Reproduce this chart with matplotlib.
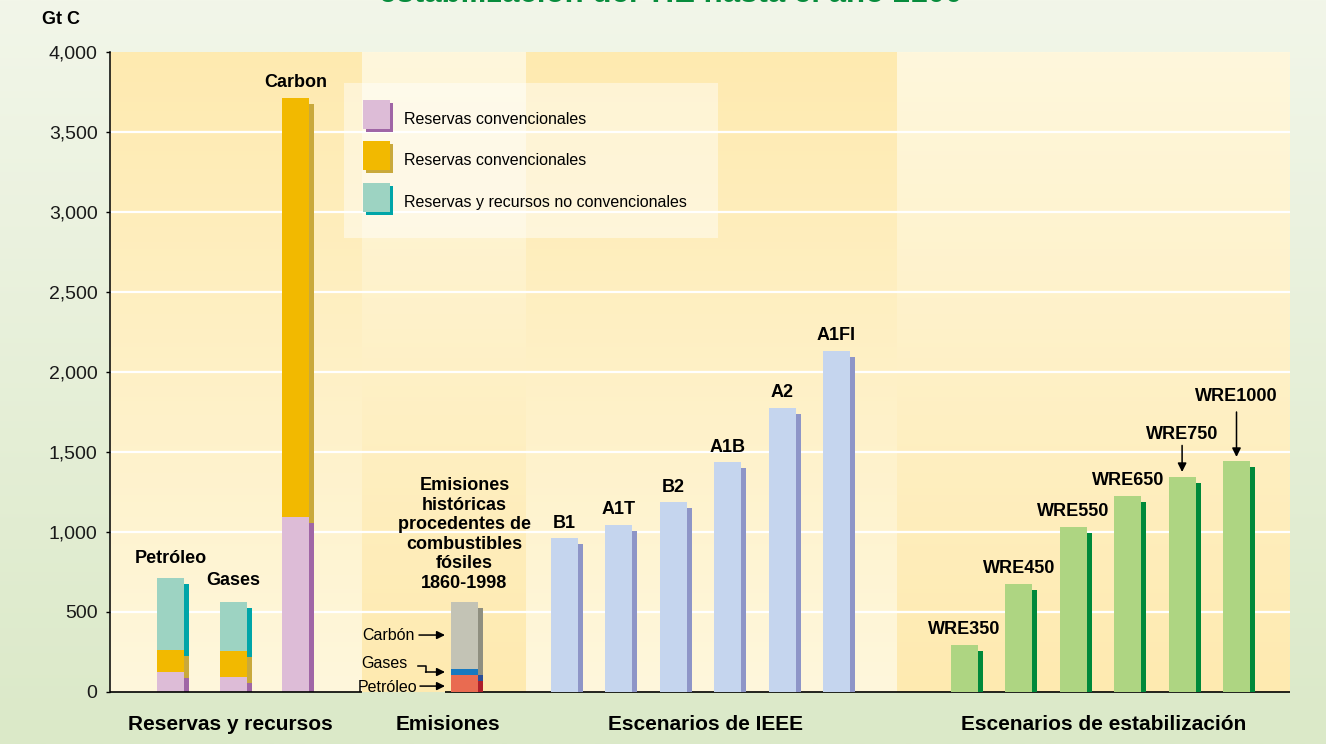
import numpy as np
import matplotlib
matplotlib.use('Agg')
import matplotlib.pyplot as plt
from matplotlib.patches import Rectangle
from matplotlib.colors import to_rgb

plt.rcParams['font.family'] = ['Liberation Sans', 'DejaVu Sans']

# reserves and resources, Gt C
reserve_names = ['Petróleo', 'Gases', 'Carbon']
reserves_conv = [125, 94, 1094]
resources_conv = [137, 162, 2618]
reserves_unconv = [450, 306, 0]

# historical emissions 1860-1998 (oil, gas, coal)
emission_names = ['Petróleo', 'Gases', 'Carbón']
emission_values = [106, 38, 418]

ipcc_names = ['B1', 'A1T', 'B2', 'A1B', 'A2', 'A1FI']
ipcc_values = [962, 1044, 1187, 1437, 1775, 2131]

wre_names = ['WRE350', 'WRE450', 'WRE550', 'WRE650', 'WRE750', 'WRE1000']
wre_values = [294, 675, 1031, 1225, 1344, 1444]

y_ticks = [0, 500, 1000, 1500, 2000, 2500, 3000, 3500, 4000]
group_labels = ['Reservas y recursos', 'Emisiones', 'Escenarios de IEEE',
                'Escenarios de estabilización']
legend_labels = ['Reservas convencionales', 'Reservas convencionales',
                 'Reservas y recursos no convencionales']

# colours: (face, shade)
PINK = ('#DDBCD7', '#A066A6')
GOLD = ('#F2B900', '#C9A93C')
TEAL = ('#9DD3C2', '#00A5A8')
GREY = ('#C3C3B5', '#8F8F80')
BLUE = ('#1779C0', '#2C4F98')
RED = ('#E96B51', '#AE1F2B')
IPCC_C = ('#C5D5EE', '#8E95C7')
WRE_C = ('#AED582', '#00893A')
DARK_PANEL = '#FEEAB0'
LIGHT_PANEL = '#FFF7DC'

W = 27       # face width
SW = 5       # side shade width
DROP = 37.5  # shade sits a bit lower than the face

fig = plt.figure(figsize=(13.26, 7.44), dpi=100)

# greenish page background
bg = fig.add_axes([0, 0, 1, 1], zorder=-5)
c0, c1 = np.array(to_rgb('#F2F6E9')), np.array(to_rgb('#DBE9C8'))
g = np.linspace(0, 1, 256)[:, None, None]
bg.imshow(c0 + (c1 - c0) * g, extent=(0, 1, 0, 1), origin='upper', aspect='auto')
bg.axis('off')

ax = fig.add_axes([110 / 1326, 52 / 744, 1180 / 1326, 640 / 744])
ax.patch.set_visible(False)


def panel(x0, x1, top_color, bottom_color):
    a, b = np.array(to_rgb(top_color)), np.array(to_rgb(bottom_color))
    grad = np.linspace(0, 1, 256)[:, None, None]
    ax.imshow(a + (b - a) * grad, extent=(x0, x1, 0, 4000), origin='upper',
              aspect='auto', zorder=0, interpolation='bilinear')


panel(0, 252, DARK_PANEL, LIGHT_PANEL)
panel(252, 416, LIGHT_PANEL, DARK_PANEL)
panel(416, 787, DARK_PANEL, LIGHT_PANEL)
panel(787, 1180, LIGHT_PANEL, DARK_PANEL)

for v in y_ticks[1:-1]:
    ax.axhline(v, color='white', lw=1.6, zorder=1)


def shaded_bar(x, heights, colors):
    bottom = 0
    for h, (fc, sc) in zip(heights, colors):
        if h <= 0:
            continue
        ax.bar(x, h, W, bottom=bottom, color=fc, align='edge', lw=0, zorder=3)
        sb = max(bottom - DROP, 0)
        st = bottom + h - DROP
        ax.bar(x + W, st - sb, SW, bottom=sb, color=sc, align='edge', lw=0, zorder=3)
        bottom += h
    return bottom


lab = dict(fontsize=13, fontweight='bold', ha='center', va='baseline', zorder=6)

# reserves and resources
res_x = [47 + 62.5 * i for i in range(3)]
res_offsets = [94, 109, 69]
for i, name in enumerate(reserve_names):
    top = shaded_bar(res_x[i], [reserves_conv[i], resources_conv[i], reserves_unconv[i]],
                     [PINK, GOLD, TEAL])
    ax.text(res_x[i] + W / 2, top + res_offsets[i], name, **lab)

# historical emissions
em_x = 341
em_top = shaded_bar(em_x, emission_values, [RED, BLUE, GREY])
ax.text(em_x + W / 2, em_top + 422,
        'Emisiones\nhistóricas\nprocedentes de\ncombustibles\nfósiles\n1860-1998',
        fontsize=13, fontweight='bold', ha='center', va='center', linespacing=1.2, zorder=6)

small = dict(fontsize=11.5, va='center', ha='right', zorder=6)
arrow = dict(arrowstyle='-|>', color='black', lw=1.1, mutation_scale=12,
             shrinkA=0, shrinkB=0)
ax.text(305, 356, emission_names[2], **small)
ax.annotate('', xy=(335, 356), xytext=(309, 356), arrowprops=arrow, zorder=6)
ax.text(298, 175, emission_names[1], **small)
ax.plot([308, 316, 316], [162, 162, 125], color='black', lw=1.1, zorder=6)
ax.annotate('', xy=(335, 125), xytext=(315.5, 125), arrowprops=arrow, zorder=6)
ax.text(307, 31, emission_names[0], **small)
ax.annotate('', xy=(335, 37), xytext=(310, 37), arrowprops=arrow, zorder=6)

# IPCC scenarios
for i, (name, v) in enumerate(zip(ipcc_names, ipcc_values)):
    x = 441 + 54.4 * i
    shaded_bar(x, [v], [IPCC_C])
    ax.text(x + W / 2, v + 66, name, **lab)

# WRE stabilisation scenarios
wre_label_y = {'WRE750': (1584, 1541, 1375), 'WRE1000': (1816, 1750, 1469)}
for i, (name, v) in enumerate(zip(wre_names, wre_values)):
    x = 841 + 54.4 * i
    shaded_bar(x, [v], [WRE_C])
    if name in wre_label_y:
        ty, a0, a1 = wre_label_y[name]
        ax.text(x + W / 2, ty, name, **lab)
        ax.annotate('', xy=(x + W / 2, a1), xytext=(x + W / 2, a0),
                    arrowprops=dict(arrow, mutation_scale=13), zorder=6)
    else:
        ax.text(x + W / 2, v + 66, name, **lab)

# legend box
ax.add_patch(Rectangle((234, 2837), 374, 969, facecolor='white', alpha=0.45,
                       lw=0, zorder=2))
for i, (label, (fc, sc)) in enumerate(zip(legend_labels, [PINK, GOLD, TEAL])):
    y0 = 3519 - 259 * i
    ax.add_patch(Rectangle((256, y0 - 19), 27, 181, facecolor=sc, lw=0, zorder=3))
    ax.add_patch(Rectangle((253, y0), 27, 181, facecolor=fc, lw=0, zorder=4))
    ax.text(294, y0 + 60, label, fontsize=11.5, va='center', ha='left', zorder=6)

# group captions under the axis
for x, label in zip([120, 338, 595, 994], group_labels):
    ax.text(x, -206, label, fontsize=15, fontweight='bold', ha='center', va='center',
            clip_on=False)

ax.set_xlim(0, 1180)
ax.set_ylim(0, 4000)
ax.set_xticks([])
ax.set_yticks(y_ticks)
ax.set_yticklabels(['{:,}'.format(v) for v in y_ticks])
ax.tick_params(axis='y', length=3, width=1, pad=6, labelsize=14, labelcolor='#1A1A1A')
for side in ['top', 'right', 'bottom']:
    ax.spines[side].set_visible(False)
ax.spines['left'].set_linewidth(1.1)
ax.spines['left'].set_zorder(5)
# bottom axis line, broken where the oil label sits
ax.hlines(0, 0, 252, color='black', lw=1.2, zorder=5, clip_on=False)
ax.hlines(0, 335, 1180, color='black', lw=1.2, zorder=2.9, clip_on=False)

fig.text(42 / 1326, 1 - 19 / 744, 'Gt C', fontsize=13, fontweight='bold',
         ha='left', va='center')
# page heading, running off the top edge
fig.text(671 / 1326, 1 - 2 / 744, 'estabilización del TIE hasta el año 2100',
         fontsize=22.5, fontweight='bold', color='#078C3C', ha='center', va='baseline')

fig.savefig('out.png', dpi=100)
